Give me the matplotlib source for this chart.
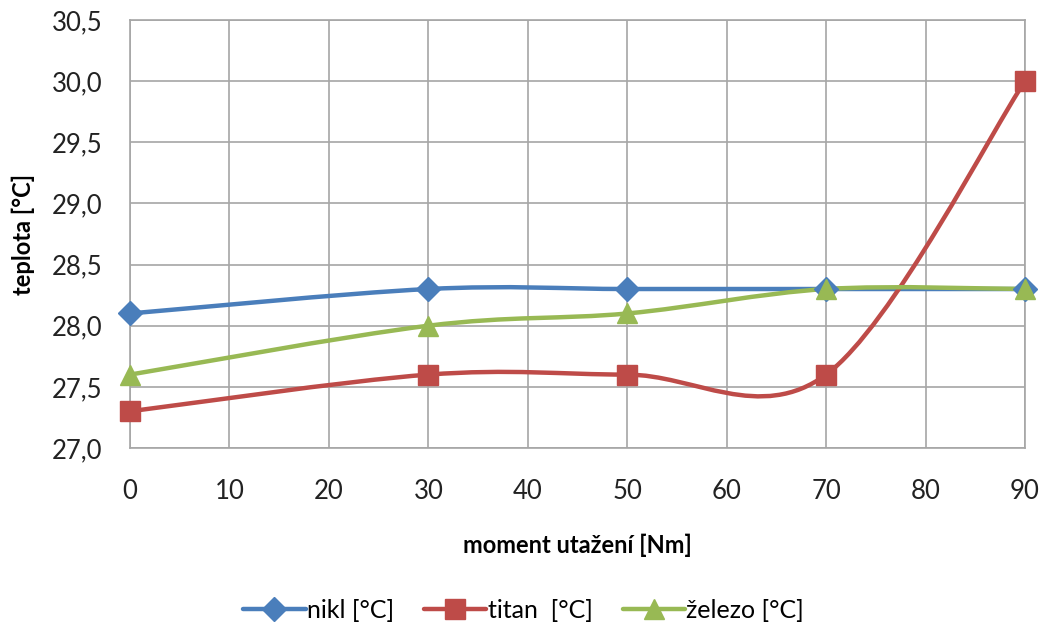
import numpy as np
import matplotlib.pyplot as plt
from matplotlib.path import Path
from matplotlib.patches import PathPatch
from matplotlib.lines import Line2D
from matplotlib.ticker import FuncFormatter

plt.rcParams['font.family'] = ['Lato', 'DejaVu Sans']

# tightening torque [Nm] and measured temperatures [°C]
moment = [0, 30, 50, 70, 90]
nikl = [28.1, 28.3, 28.3, 28.3, 28.3]
titan = [27.3, 27.6, 27.6, 27.6, 30.0]
zelezo = [27.6, 28.0, 28.1, 28.3, 28.3]

labels = ['nikl [°C]', 'titan  [°C]', 'železo [°C]']
colors = ['#4a7ebb', '#be4b48', '#98b954']
markers = ['D', 's', '^']
msizes = [12, 15, 14]


def smooth_path(x, y):
    # spreadsheet-style smoothed line: cubic Bezier through every point
    pts = np.column_stack([x, y]).astype(float)
    n = len(pts)
    verts = [pts[0]]
    codes = [Path.MOVETO]
    for i in range(n - 1):
        p0 = pts[max(i - 1, 0)]
        p1 = pts[i]
        p2 = pts[i + 1]
        p3 = pts[min(i + 2, n - 1)]
        c1 = p1 + (p2 - p0) / 6.0
        c2 = p2 - (p3 - p1) / 6.0
        verts += [c1, c2, p2]
        codes += [Path.CURVE4] * 3
    return Path(verts, codes)


fig = plt.figure(figsize=(10.47, 6.29), dpi=100)
ax = fig.add_axes([0.1242, 0.2878, 0.8548, 0.6804])

handles = []
for ys, lab, c, m, ms in zip([nikl, titan, zelezo], labels, colors, markers, msizes):
    patch = PathPatch(smooth_path(moment, ys), facecolor='none', edgecolor=c,
                      lw=3.2, capstyle='round', joinstyle='round', zorder=3,
                      clip_on=False)
    ax.add_patch(patch)
    ax.plot(moment, ys, linestyle='none', marker=m, markersize=ms,
            color=c, markeredgecolor=c, zorder=4, clip_on=False)
    handles.append(Line2D([], [], color=c, lw=3.2, marker=m, markersize=ms,
                          solid_capstyle='round', label=lab))

ax.set_xlim(0, 90)
ax.set_ylim(27.0, 30.5)
ax.set_xticks(np.arange(0, 91, 10))
ax.set_yticks(np.arange(27.0, 30.51, 0.5))
ax.yaxis.set_major_formatter(FuncFormatter(lambda v, p: f'{v:.1f}'.replace('.', ',')))

ax.grid(True, color='#a6a6a6', linewidth=1.2)
ax.set_axisbelow(True)
for s in ax.spines.values():
    s.set_color('#a6a6a6')
    s.set_linewidth(1.2)
ax.tick_params(length=0, labelsize=18.5, colors='#222222')
ax.tick_params(axis='x', pad=22)
ax.tick_params(axis='y', pad=20)

ax.set_xlabel('moment utažení [Nm]', fontsize=17, fontweight='bold', labelpad=22)
ax.set_ylabel('teplota [°C]', fontsize=17, fontweight='bold', labelpad=12)

fig.legend(handles=handles, loc='lower center', bbox_to_anchor=(0.5, -0.025),
           ncol=3, frameon=False, fontsize=18, handlelength=2.5,
           handletextpad=0.05, columnspacing=1.2)

fig.savefig('out.png', dpi=100)
